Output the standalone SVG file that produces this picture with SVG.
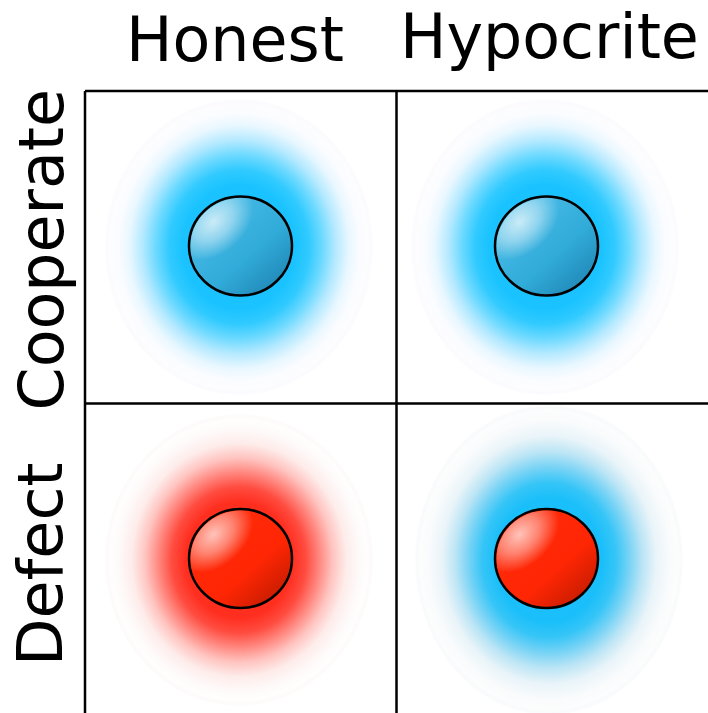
<svg xmlns="http://www.w3.org/2000/svg" width="708" height="713" viewBox="0 0 708 713">
<style>
.lbl{font-family:"DejaVu Sans",sans-serif;font-size:61.800px;fill:#000}
.ball{stroke:#000;stroke-width:2.500}
.grid{stroke:#000;stroke-width:2.500;fill:none}
</style>
<defs>
<radialGradient id="gBlue">
<stop offset="0" stop-color="#1ac3ff"/><stop offset="0.42" stop-color="#1ac3ff"/><stop offset="0.52" stop-color="#30caff"/><stop offset="0.62" stop-color="#6cd9ff"/><stop offset="0.72" stop-color="#b4e9ff"/><stop offset="0.82" stop-color="#e8f7ff"/><stop offset="0.9" stop-color="#fafcff"/><stop offset="0.96" stop-color="#fdfdff"/><stop offset="0.985" stop-color="#fbfbff"/><stop offset="1" stop-color="#fdfdff"/>
</radialGradient>
<radialGradient id="gBlue2">
<stop offset="0" stop-color="#17beff"/><stop offset="0.4" stop-color="#1abffa"/><stop offset="0.5" stop-color="#36c5f7"/><stop offset="0.6" stop-color="#78d3f5"/><stop offset="0.7" stop-color="#bce5f5"/><stop offset="0.8" stop-color="#e9f4f9"/><stop offset="0.9" stop-color="#f9fbfc"/><stop offset="0.96" stop-color="#fcfdfd"/><stop offset="0.985" stop-color="#f9fafb"/><stop offset="1" stop-color="#fcfdfd"/>
</radialGradient>
<radialGradient id="gRed">
<stop offset="0" stop-color="#ff2a1a"/><stop offset="0.4" stop-color="#ff2f20"/><stop offset="0.5" stop-color="#ff4c40"/><stop offset="0.6" stop-color="#ff8880"/><stop offset="0.7" stop-color="#ffc4c0"/><stop offset="0.8" stop-color="#fdecea"/><stop offset="0.9" stop-color="#fefafa"/><stop offset="0.96" stop-color="#fffdfd"/><stop offset="0.985" stop-color="#fdfafa"/><stop offset="1" stop-color="#fefcfc"/>
</radialGradient>
<linearGradient id="bBlue" x1="0.15" y1="0.1" x2="0.9" y2="0.9">
<stop offset="0" stop-color="#4abde8"/><stop offset="0.6" stop-color="#31abd9"/><stop offset="1" stop-color="#2088b6"/>
</linearGradient>
<linearGradient id="bRed" x1="0.15" y1="0.1" x2="0.9" y2="0.9">
<stop offset="0" stop-color="#ff2a0a"/><stop offset="0.62" stop-color="#ff2604"/><stop offset="1" stop-color="#c41c00"/>
</linearGradient>
<radialGradient id="shine" cx="0.23" cy="0.25" r="0.34" gradientTransform="translate(.23 .25) rotate(-45) scale(1.35 .95) translate(-.23 -.25)">
<stop offset="0" stop-color="#fff" stop-opacity="0.72"/><stop offset="0.5" stop-color="#fff" stop-opacity="0.42"/><stop offset="1" stop-color="#fff" stop-opacity="0"/>
</radialGradient>
</defs>
<rect width="708" height="713" fill="#fff"/>
<g id="glows">
<ellipse cx="239" cy="247" rx="134" ry="148" fill="url(#gBlue)"/>
<ellipse cx="545" cy="247" rx="134" ry="148" fill="url(#gBlue)"/>
<ellipse cx="239" cy="560" rx="134" ry="146" fill="url(#gRed)"/>
<ellipse cx="549" cy="560" rx="134" ry="155" fill="url(#gBlue2)"/>
</g>
<g id="connectors">
<path class="grid" d="M85 91H708M85 403.500H708M85 91V713M396.500 91V713"/>
</g>
<g id="honest-cooperate"><ellipse class="ball" cx="240.500" cy="246" rx="51.500" ry="49.500" fill="url(#bBlue)"/><ellipse cx="240.500" cy="246" rx="50" ry="48" fill="url(#shine)"/></g>
<g id="hypocrite-cooperate"><ellipse class="ball" cx="546.500" cy="246" rx="51.500" ry="49.500" fill="url(#bBlue)"/><ellipse cx="546.500" cy="246" rx="50" ry="48" fill="url(#shine)"/></g>
<g id="honest-defect"><ellipse class="ball" cx="240.500" cy="558.500" rx="51.500" ry="49.500" fill="url(#bRed)"/><ellipse cx="240.500" cy="558.500" rx="50" ry="48" fill="url(#shine)"/></g>
<g id="hypocrite-defect"><ellipse class="ball" cx="546.500" cy="558.500" rx="51.500" ry="49.500" fill="url(#bRed)"/><ellipse cx="546.500" cy="558.500" rx="50" ry="48" fill="url(#shine)"/></g>
<g id="labels">
<text class="lbl" x="126" y="61">Honest</text>
<text class="lbl" x="400" y="58">Hypocrite</text>
<text class="lbl" transform="translate(63 410.500) rotate(-90)">Cooperate</text>
<text class="lbl" transform="translate(62 666) rotate(-90)">Defect</text>
</g>
</svg>
